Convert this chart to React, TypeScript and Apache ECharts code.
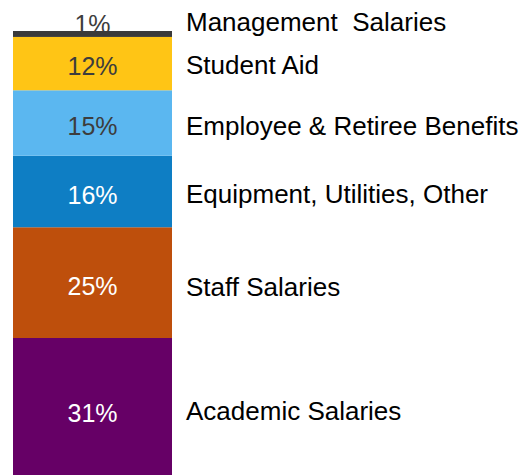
import React, { useEffect, useRef } from "react";
import * as echarts from "echarts";

const categories = ["Budget"];
const segmentNames = [
  "Academic Salaries",
  "Staff Salaries",
  "Equipment, Utilities, Other",
  "Employee & Retiree Benefits",
  "Student Aid",
  "Management  Salaries",
];
const segmentValues = [31, 25, 16.2, 14.8, 12.1, 1.3];
const segmentColors = ["#660066", "#BE4F0C", "#0E7EC4", "#5BB7F0", "#FFC515", "#3A3A3A"];
const percentColors = ["#FFFFFF", "#FFFFFF", "#FFFFFF", "#3D3D3D", "#3D3D3D", "#3D3D3D"];
const nameOffsets = [5, 4, 2, 3, 1, -12];
const percentOffsets = [7, 3, 3, 3, 2, -10];

const FONT = "'Liberation Sans', Arial, Helvetica, sans-serif";

export default function App() {
  const ref = useRef<HTMLDivElement>(null);
  useEffect(() => {
    if (!ref.current) return;
    const chart = echarts.init(ref.current, undefined, { renderer: "svg" });
    const total = segmentValues.reduce((a, b) => a + b, 0);
    const pxPerUnit = 4.45;
    const series: any[] = [];
    segmentValues.forEach((v, i) => {
      series.push({
        type: "bar",
        name: segmentNames[i] + " %",
        stack: "a",
        data: [v],
        barWidth: "100%",
        barGap: "-100%",
        barCategoryGap: 0,
        z: 2,
        silent: true,
        itemStyle: { color: segmentColors[i] },
        label: {
          show: true,
          position: "inside",
          offset: [0, percentOffsets[i]],
          formatter: (p: any) => Math.round(p.value) + "%",
          color: percentColors[i],
          fontSize: 25,
          fontFamily: FONT,
        },
      });
    });
    segmentValues.forEach((v, i) => {
      const isTop = i === segmentValues.length - 1;
      series.push({
        type: "bar",
        name: segmentNames[i],
        stack: "b",
        data: [v],
        barWidth: "100%",
        barGap: "-100%",
        barCategoryGap: 0,
        z: 3,
        silent: true,
        itemStyle: { color: isTop ? segmentColors[i] : "rgba(0,0,0,0)" },
        label: {
          show: true,
          position: "right",
          distance: 14,
          offset: [0, nameOffsets[i]],
          formatter: segmentNames[i],
          color: "#000000",
          fontSize: 26,
          fontFamily: FONT,
        },
      });
    });
    chart.setOption({
      animation: false,
      backgroundColor: "#FFFFFF",
      grid: { left: 13, top: 31, width: 159, height: total * pxPerUnit },
      xAxis: { type: "category", data: categories, show: false },
      yAxis: { type: "value", min: 0, max: total, show: false },
      series,
    });
    return () => chart.dispose();
  }, []);
  return (
    <div
      ref={ref}
      style={{ position: "fixed", left: 0, top: 0, width: 525, height: 475 }}
    />
  );
}
